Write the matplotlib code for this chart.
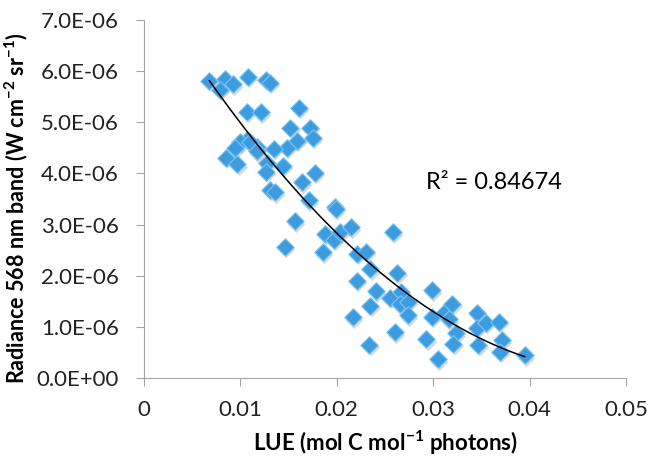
import numpy as np
import matplotlib
matplotlib.use('Agg')
from matplotlib import pyplot as plt
from matplotlib.ticker import FuncFormatter, MultipleLocator

# LUE (mol C mol-1 photons)
lue = [0.0068, 0.0084, 0.0092, 0.0079, 0.0108, 0.0127, 0.0131,
       0.0161, 0.0107, 0.0121, 0.0152, 0.0172, 0.0175, 0.0159, 0.0148,
       0.0135, 0.0117, 0.0107, 0.0100, 0.0095, 0.0085, 0.0097, 0.0110,
       0.0117, 0.0128, 0.0127, 0.0144, 0.0177, 0.0164, 0.0131, 0.0136,
       0.0171, 0.0198, 0.0199, 0.0157, 0.0188, 0.0197, 0.0203, 0.0215,
       0.0146, 0.0186, 0.0221, 0.0230, 0.0235, 0.0221, 0.0241, 0.0258,
       0.0263, 0.0255, 0.0267, 0.0266, 0.0274, 0.0274, 0.0299, 0.0299,
       0.0311, 0.0316, 0.0320, 0.0217, 0.0235, 0.0260, 0.0234, 0.0293,
       0.0305, 0.0324, 0.0321, 0.0345, 0.0345, 0.0355, 0.0368, 0.0347,
       0.0371, 0.0369, 0.0395]

# Radiance 568 nm band (1e-6 W cm-2 sr-1)
radiance = [5.81, 5.85, 5.74, 5.64, 5.89, 5.83, 5.77,
            5.28, 5.21, 5.20, 4.89, 4.89, 4.70, 4.64, 4.50,
            4.48, 4.51, 4.66, 4.62, 4.50, 4.31, 4.18, 4.62,
            4.43, 4.20, 4.03, 4.15, 4.01, 3.83, 3.68, 3.63,
            3.48, 3.35, 3.31, 3.06, 2.82, 2.70, 2.85, 2.95,
            2.57, 2.46, 2.43, 2.47, 2.13, 1.90, 1.70, 2.85,
            2.06, 1.57, 1.69, 1.44, 1.49, 1.23, 1.72, 1.20,
            1.28, 1.15, 1.45, 1.19, 1.41, 0.89, 0.65, 0.76,
            0.37, 0.87, 0.67, 1.28, 0.98, 1.08, 1.10, 0.65,
            0.74, 0.51, 0.45]

# poly (order 2) trendline, in 1e-6 units
trend_coef = [3110.0, -309.0, 7.77]
r2_label = 'R² = 0.84674'

x = np.array(lue)
y = np.array(radiance) * 1e-6

plt.rcParams['font.family'] = ['Lato', 'DejaVu Sans']
plt.rcParams['mathtext.fontset'] = 'custom'
plt.rcParams['mathtext.rm'] = 'Lato'
plt.rcParams['mathtext.bf'] = 'Lato:bold'
plt.rcParams['mathtext.default'] = 'bf'

fig = plt.figure(figsize=(6.48, 4.59), dpi=100)
ax = fig.add_axes([0.222, 0.1765, 0.744, 0.78])

# soft shadow, then the diamonds
ax.scatter(x + 0.00012, y - 0.05e-6, marker='D', s=80, color='#9a9a9a',
           alpha=0.35, linewidths=0, zorder=2)
ax.scatter(x, y, marker='D', s=80, color='#3d9be0', edgecolors='#7cc4f2',
           linewidths=0.8, zorder=3)

xx = np.linspace(x.min(), x.max(), 200)
ax.plot(xx, np.polyval(trend_coef, xx) * 1e-6, color='black', lw=1.1, zorder=4)

ax.text(0.0293, 3.83e-6, r2_label, fontsize=17, va='center', ha='left')

ax.set_xlim(0, 0.05)
ax.set_ylim(0, 7e-6)
ax.xaxis.set_major_locator(MultipleLocator(0.01))
ax.yaxis.set_major_locator(MultipleLocator(1e-6))
ax.xaxis.set_major_formatter(FuncFormatter(lambda v, p: '0' if abs(v) < 1e-12 else f'{v:g}'))
ax.yaxis.set_major_formatter(FuncFormatter(lambda v, p: f'{v:.1E}'))

for side in ['top', 'right']:
    ax.spines[side].set_visible(False)
for side in ['left', 'bottom']:
    ax.spines[side].set_color('#a6a6a6')
ax.tick_params(axis='both', colors='#a6a6a6', labelcolor='#222222',
               labelsize=16, length=6, direction='out')
ax.tick_params(axis='x', pad=10)
ax.tick_params(axis='y', pad=12)

ax.set_xlabel('LUE (mol C mol$^{-1}$ photons)', fontsize=16,
              fontweight='bold', labelpad=6)
ax.set_ylabel('Radiance 568 nm band (W cm$^{-2}$ sr$^{-1}$)', fontsize=15.5,
              fontweight='bold')
ax.yaxis.set_label_coords(-0.236, 0.473)

plt.savefig('out.png', dpi=100)
